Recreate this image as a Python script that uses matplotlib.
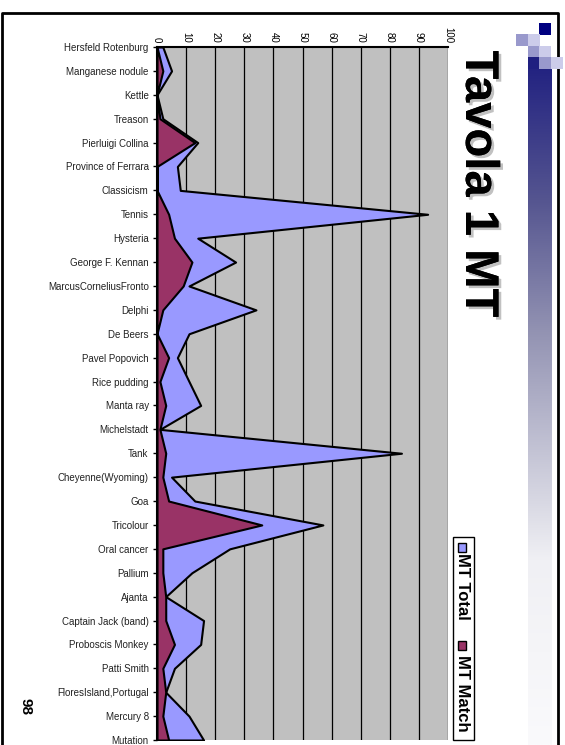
import numpy as np
import matplotlib
matplotlib.use("Agg")
import matplotlib.pyplot as plt
from matplotlib.patches import Rectangle
import matplotlib.patheffects as pe

plt.rcParams['font.family'] = ['Liberation Sans', 'DejaVu Sans']

# categories top to bottom
categories = ["Hersfeld Rotenburg", "Manganese nodule", "Kettle", "Treason",
              "Pierluigi Collina", "Province of Ferrara", "Classicism", "Tennis",
              "Hysteria", "George F. Kennan", "MarcusCorneliusFronto", "Delphi",
              "De Beers", "Pavel Popovich", "Rice pudding", "Manta ray",
              "Michelstadt", "Tank", "Cheyenne(Wyoming)", "Goa", "Tricolour",
              "Oral cancer", "Pallium", "Ajanta", "Captain Jack (band)",
              "Proboscis Monkey", "Patti Smith", "FloresIsland,Portugal",
              "Mercury 8", "Mutation"]
mt_total = [2, 5, 0, 2, 14, 7, 8, 93, 14, 27, 11, 34, 11, 7, 11, 15,
            1, 84, 5, 13, 57, 25, 12, 3, 16, 15, 6, 3, 11, 16]
mt_match = [0, 2, 0, 1, 13, 0, 0, 4, 6, 12, 9, 2, 0, 4, 1, 3,
            1, 3, 2, 4, 36, 2, 2, 3, 3, 6, 2, 3, 2, 4]
value_ticks = list(range(0, 101, 10))

W, H = 565, 745
fig = plt.figure(figsize=(W / 100, H / 100), dpi=100)

# slide decorations, drawn in pixel coordinates
deco = fig.add_axes([0, 0, 1, 1])
deco.set_xlim(0, W)
deco.set_ylim(H, 0)
deco.axis('off')

# slide frame
deco.plot([1.5, 1.5, 558, 558], [H, 13, 13, H], color='black', lw=2)

# vertical gradient band on the right: navy -> grey-blue -> almost white
rows = np.linspace(57, H, 400)
stops_y = [57, 200, 330, 560, H]
stops_c = np.array([[0x1f, 0x1f, 0x80], [0x55, 0x55, 0x90], [0x92, 0x92, 0xb2],
                    [0xf0, 0xf0, 0xf4], [0xfa, 0xfa, 0xfc]]) / 255
band = np.stack([np.interp(rows, stops_y, stops_c[:, k]) for k in range(3)], axis=1)
deco.imshow(band.reshape(-1, 1, 3), extent=(528, 552, H, 57), aspect='auto', zorder=1)

# checker squares at the top right
squares = [(539, 23, '#000080'), (516, 34, '#9999cc'), (528, 34, '#ccccea'),
           (528, 46, '#9999cc'), (539, 46, '#ccccea'), (528, 57, '#1f1f80'),
           (539, 57, '#9999cc'), (551, 57, '#ccccea')]
for sx, sy, c in squares:
    deco.add_patch(Rectangle((sx, sy), 12, 11.5, facecolor=c, edgecolor='none', zorder=2))

# title and page number
deco.text(478, 184, "Tavola 1 MT", rotation=-90, ha='center', va='center',
          fontsize=34, fontweight='bold', color='black',
          path_effects=[pe.withSimplePatchShadow(offset=(2, -2), shadow_rgbFace='#999999', alpha=0.6),
                        pe.Normal()])
deco.text(25, 706, "98", rotation=-90, ha='center', va='center',
          fontsize=11, fontweight='bold')

# legend box
deco.add_patch(Rectangle((452.5, 537), 21, 203, facecolor='white', edgecolor='black', lw=1, zorder=3))
deco.add_patch(Rectangle((457.5, 542.5), 8, 9, facecolor='#9999ff', edgecolor='black', lw=1, zorder=4))
deco.text(462.5, 553, "MT Total", rotation=-90, ha='center', va='top', fontsize=12,
          fontweight='bold', zorder=4)
deco.add_patch(Rectangle((457.5, 640.5), 8, 9, facecolor='#993366', edgecolor='black', lw=1, zorder=4))
deco.text(462.5, 655, "MT Match", rotation=-90, ha='center', va='top', fontsize=12,
          fontweight='bold', zorder=4)

# main chart
ax = fig.add_axes([157 / W, 1 - 740 / H, 291 / W, (740 - 47) / H])
ypos = np.arange(len(categories))
ax.set_facecolor('#c0c0c0')
ax.fill_betweenx(ypos, 0, mt_total, facecolor='#9999ff', edgecolor='black', lw=1.5, zorder=2)
ax.fill_betweenx(ypos, 0, mt_match, facecolor='#993366', edgecolor='black', lw=1.5, zorder=3)

ax.set_xlim(0, 100)
ax.set_ylim(len(categories) - 1, 0)
ax.xaxis.tick_top()
ax.set_xticks(value_ticks)
ax.set_xticklabels([str(v) for v in value_ticks], rotation=-90, fontsize=7)
ax.tick_params(axis='x', length=0, pad=3)
ax.grid(axis='x', color='black', lw=0.9, zorder=1)
ax.set_axisbelow(True)

ax.set_yticks(ypos)
ax.set_yticklabels(categories, fontsize=7, color='#222222')
ax.tick_params(axis='y', length=3, width=1, pad=3)

for side in ['right', 'bottom']:
    ax.spines[side].set_visible(False)
for side in ['top', 'left']:
    ax.spines[side].set_linewidth(1.5)
    ax.spines[side].set_zorder(5)

fig.savefig("out.png", dpi=100)
